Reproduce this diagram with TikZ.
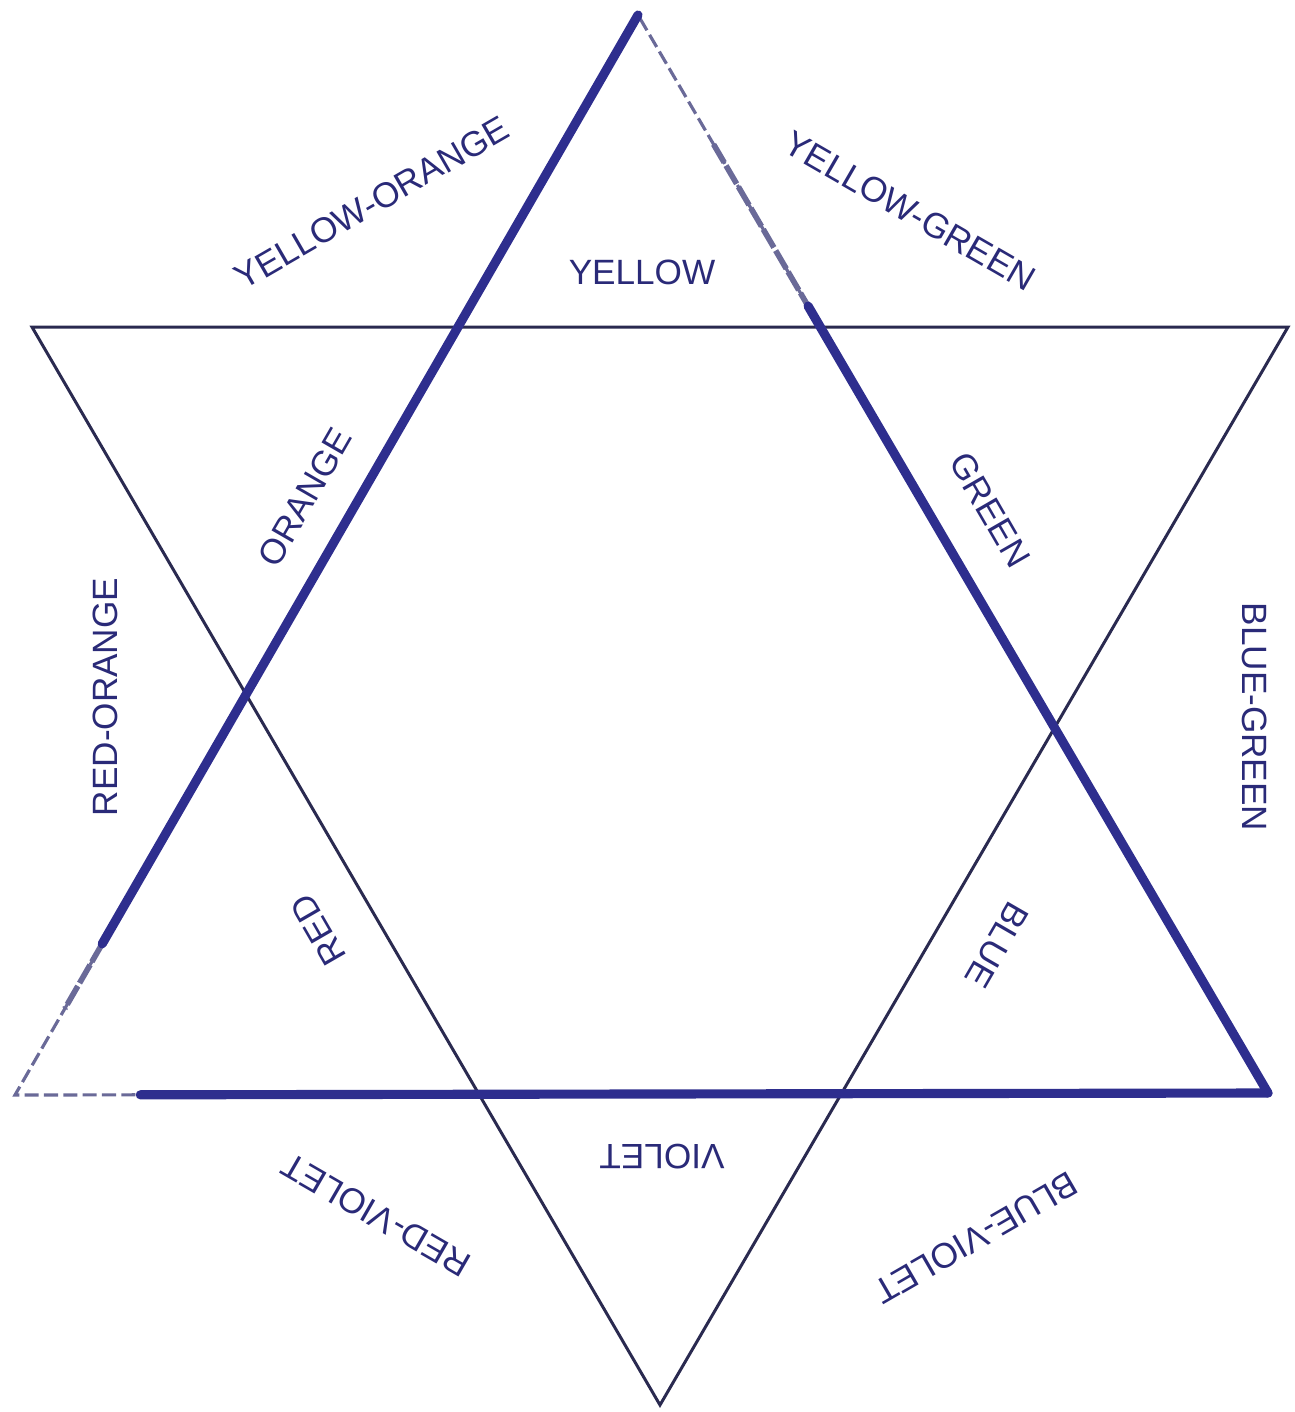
\documentclass[tikz,border=0pt]{standalone}
\usepackage{fontspec}
\setmainfont{Liberation Sans}
\usetikzlibrary{calc}
\definecolor{starNavy}{HTML}{2E2E8E}
\definecolor{lineInk}{HTML}{2A2A50}
\definecolor{sketchGrey}{HTML}{6A6A98}
\definecolor{labelNavy}{HTML}{2A2A78}

\begin{document}
\begin{tikzpicture}[
  thin edge/.style={draw=lineInk, line width=0.85pt},
  heavy edge/.style={draw=starNavy, line width=2.6pt, line cap=round},
  medium edge/.style={draw=sketchGrey, line width=1.6pt, dash pattern=on 6pt off 1pt},
  sketch edge/.style={draw=sketchGrey, line width=0.9pt, dash pattern=on 4pt off 1.5pt},
  lbl/.style={font=\fontsize{10}{12}\selectfont, text=labelNavy, rotate=#1, inner sep=1pt},
  x=0.1mm, y=-0.1mm,
]
\useasboundingbox (0,0) rectangle (1295,1412);

% upward triangle
\coordinate (apex) at (638,15);
\coordinate (bl)   at (15,1095);
\coordinate (br)   at (1268,1093);
% downward triangle
\coordinate (tl)   at (32,327);
\coordinate (tr)   at (1288,327);
\coordinate (foot) at (660,1405);

\draw[thin edge] (tl) -- (tr) -- (foot) -- cycle;

\draw[sketch edge] (apex) -- (bl) -- (br) -- cycle;
\draw[medium edge] ($(apex)!0.12!(br)$) -- ($(apex)!0.28!(br)$);
\draw[medium edge] ($(apex)!0.84!(bl)$) -- ($(apex)!0.92!(bl)$);
\draw[heavy edge] (apex) -- ($(apex)!0.86!(bl)$);
\draw[heavy edge] ($(apex)!0.27!(br)$) -- (br);
\draw[heavy edge] ($(bl)!0.10!(br)$) -- (br);

% labels round the star
\node[lbl=0]   (yellow)     at (642,272)  {YELLOW};
\node[lbl=30]  (yelorange)  at (372,203)  {YELLOW-ORANGE};
\node[lbl=-30] (yelgreen)   at (910,211)  {YELLOW-GREEN};
\node[lbl=60]  (orange)     at (305,497)  {ORANGE};
\node[lbl=-60] (green)      at (990,510)  {GREEN};
\node[lbl=90]  (redorange)  at (105,697)  {RED-ORANGE};
\node[lbl=-90] (bluegreen)  at (1255,717) {BLUE-GREEN};
\node[lbl=120] (red)        at (318,930)  {RED};
\node[lbl=240] (blue)       at (997,945)  {BLUE};
\node[lbl=180] (violet)     at (662,1157) {VIOLET};
\node[lbl=150] (redviolet)  at (376,1215) {RED-VIOLET};
\node[lbl=210] (blueviolet) at (976,1238) {BLUE-VIOLET};

\end{tikzpicture}
\end{document}
